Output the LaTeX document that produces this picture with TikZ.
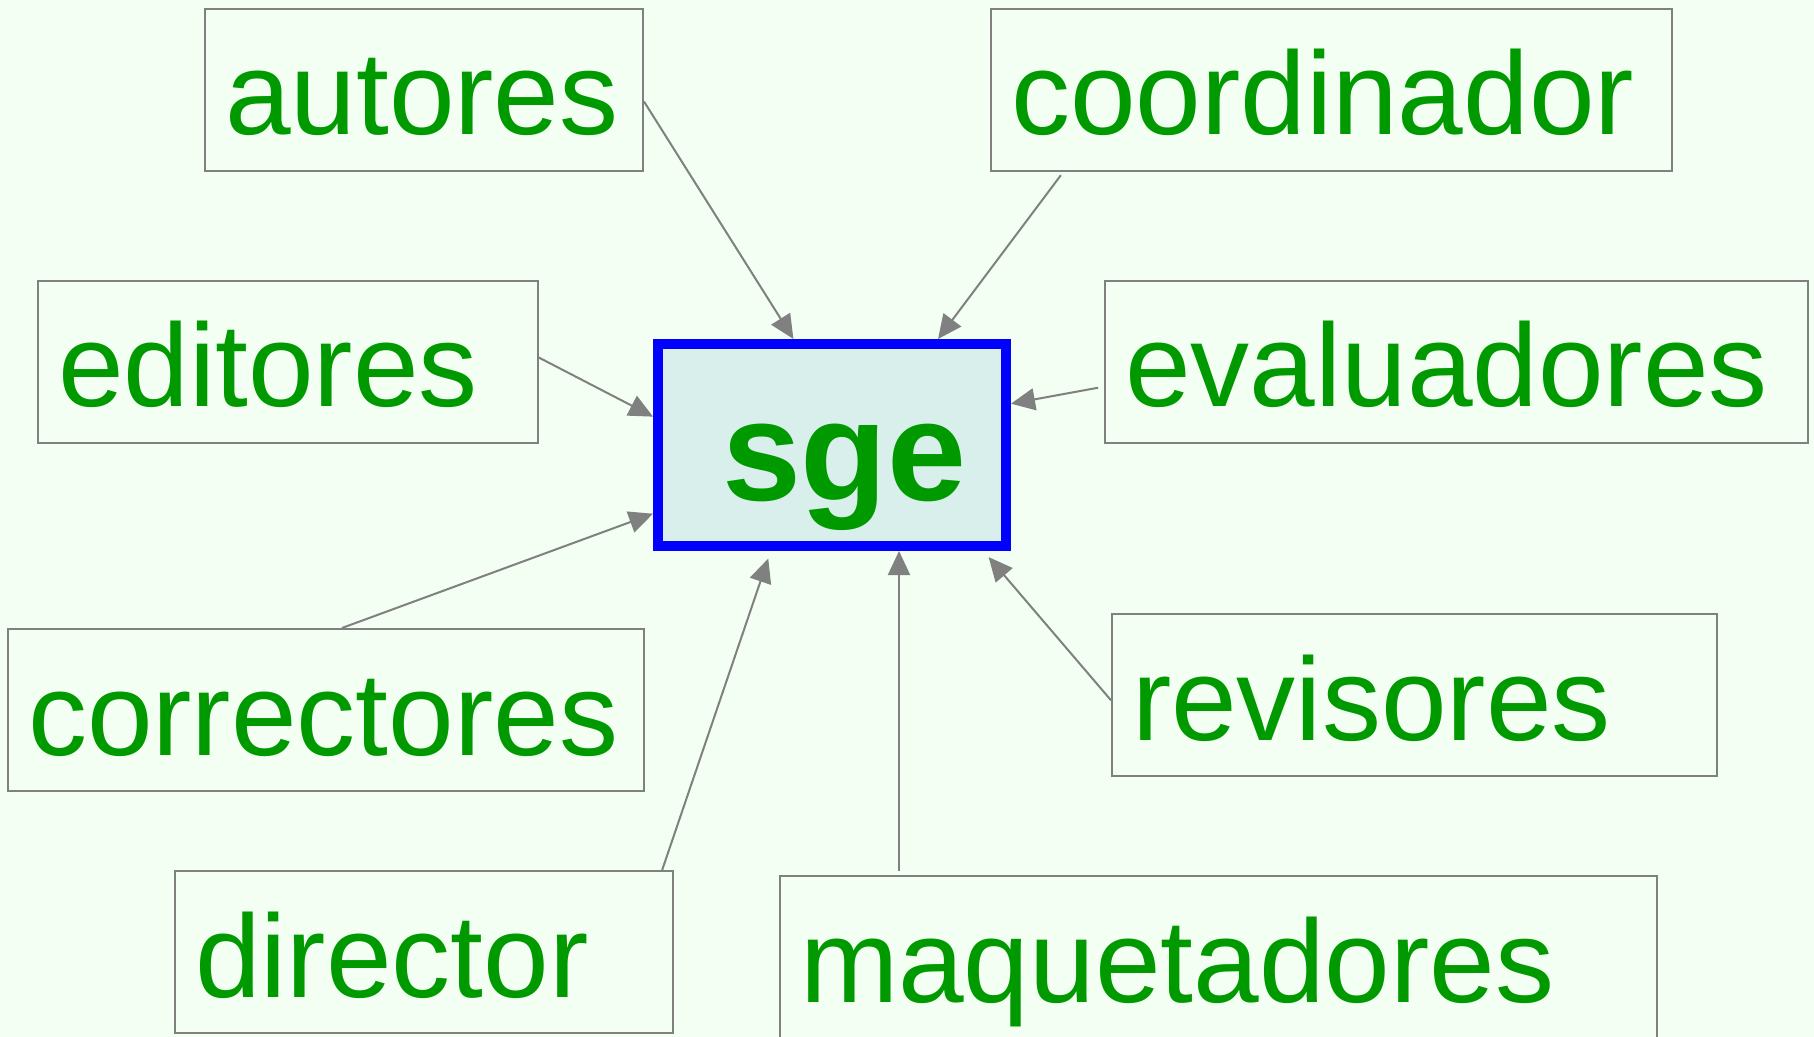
\documentclass[tikz,border=0pt]{standalone}
\usepackage{fontspec}
\setmainfont{Liberation Sans}
\usetikzlibrary{arrows.meta}
\definecolor{bgmint}{HTML}{F2FFF2}
\definecolor{txtgreen}{HTML}{009900}
\definecolor{linegray}{HTML}{808080}
\definecolor{sgefill}{HTML}{D9EFEC}
\begin{document}
\begin{tikzpicture}[x=0.5pt, y=-0.5pt,
    role/.style={shape=rectangle, draw=linegray, line width=1pt, fill=bgmint, text=txtgreen,
        font=\fontsize{59}{61}\selectfont, inner xsep=10pt, inner ysep=0pt,
        text height=63pt, text depth=18pt, align=left},
    hub/.style={shape=rectangle, draw=blue, line width=5pt, fill=sgefill, text=txtgreen,
        font=\fontsize{71}{73}\selectfont\bfseries, inner xsep=0pt, inner ysep=0pt,
        text width=174pt, text height=78pt, text depth=23pt, align=left},
    arr/.style={draw=linegray, line width=1pt, -{Triangle[length=12pt,width=11pt]}}]
                \fill[bgmint] (0,0) rectangle (1814,1037);
                \useasboundingbox (0,0) rectangle (1814,1037);
                \clip (0,0) rectangle (1814,1037);

                \node[hub] (sge) at (832, 445) {\hspace*{32pt}sge};

                \node[role, text width=199pt] (autores) at (424, 90) {autores};
                \node[role, text width=320.5pt] (coordinador) at (1331.5, 90) {coordinador};
                \node[role, text width=230pt] (editores) at (288, 362) {editores};
                \node[role, text width=331.5pt] (evaluadores) at (1456.5, 362) {evaluadores};
                \node[role, text width=298pt] (correctores) at (326, 710) {correctores};
                \node[role, text width=282.5pt] (revisores) at (1414.5, 695) {revisores};
                \node[role, text width=229pt] (director) at (424, 952) {director};
                \node[role, text width=418.5pt] (maquetadores) at (1218.5, 957) {maquetadores};

                \draw [arr] (autores.-3) -- (sge.110);
                \draw [arr, shorten <=2pt] (coordinador.197) -- (sge.45);
                \draw [arr] (editores.1) -- (sge.171);
                \draw [arr, shorten <=3pt] (evaluadores.184) -- (sge.13);
                \draw [arr] (correctores.79) -- (sge.201);
                \draw [arr, shorten >=4pt] (director.19) -- (sge.240);
                \draw [arr, shorten >=4pt] (revisores.181.5) -- (sge.325);
                \draw [arr, shorten <=2pt] ([xshift=60pt]maquetadores.north west) coordinate (maqtop) -- (maqtop |- sge.south);
            \end{tikzpicture}
\end{document}
